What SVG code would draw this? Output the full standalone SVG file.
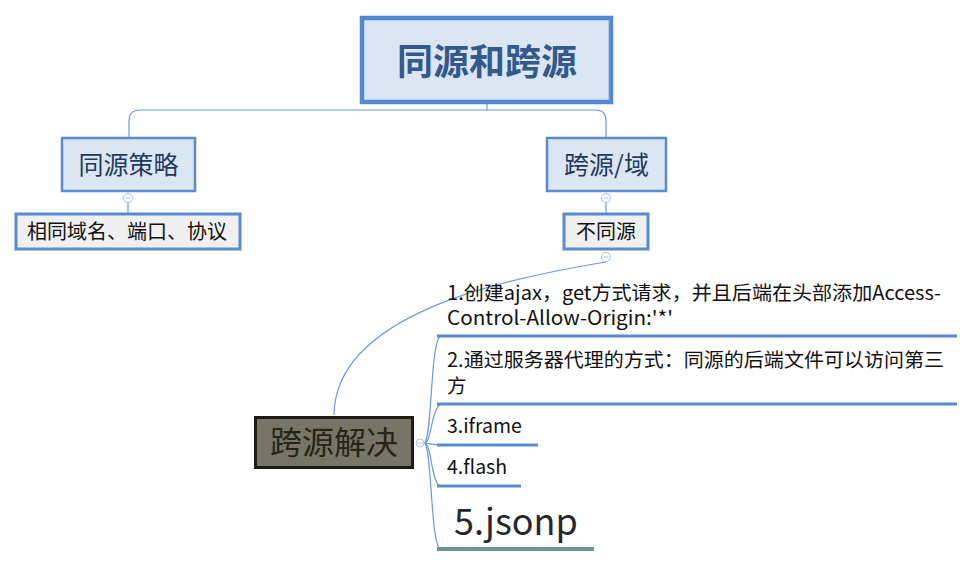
<svg xmlns="http://www.w3.org/2000/svg" width="974" height="567" viewBox="0 0 974 567">
<style>
text{font-family:"Noto Sans CJK SC","Noto Sans",sans-serif}
.line{fill:none;stroke:#6b9bd8;stroke-width:1.2}
.box{fill:#dce6f2;stroke:#5a8ad0;stroke-width:2.5}
.leaf{fill:#f0f0f0;stroke:#5a8ad0;stroke-width:3}
.t2{font-size:25px;fill:#1f3a60;text-anchor:middle}
.t3{font-size:20px;fill:#111;text-anchor:middle}
.item{font-size:19.5px;fill:#111}
.ul{stroke:#5a8ad0;stroke-width:3}
.col{fill:#fff;stroke:#a9c0e8;stroke-width:1}
.minus{stroke:#a9c0e8;stroke-width:1}
</style>
<rect width="974" height="567" fill="#fff"/>
<g id="connectors">
<path class="line" d="M487,104 V110 M140,110 H596 M140,110 Q129,110 129,121 V137 M596,110 Q606,110 606,121 V137"/>
<path class="line" d="M128,203 V213 M606,203 V213"/>
<path class="line" d="M606,262 C520,276 335,310 334,415"/>
<path class="line" d="M424,443 C432,443 430,346 440,336 M424,443 C432,443 430,413 440,404 M424,443 C430,443 432,445 440,445 M424,443 C432,443 430,478 440,487 M424,443 C432,443 430,540 440,549"/>
</g>
<g id="root">
<rect x="362" y="18" width="249" height="84" fill="#dce6f2" stroke="#558ad3" stroke-width="4.5"/>
<text x="487" y="75" font-size="36" font-weight="bold" fill="#34598c" text-anchor="middle">同源和跨源</text>
</g>
<g id="same-origin">
<rect class="box" x="62" y="138" width="133" height="53"/>
<text class="t2" x="128.5" y="174">同源策略</text>
<circle class="col" cx="128" cy="198" r="4.5"/><path class="minus" d="M125.5,198 H130.5"/>
</g>
<g id="same-origin-rule">
<rect class="leaf" x="16" y="214" width="224" height="35"/>
<text class="t3" x="127" y="239">相同域名、端口、协议</text>
</g>
<g id="cross-origin">
<rect class="box" x="547" y="138" width="119" height="53"/>
<text class="t2" x="606.5" y="174">跨源/域</text>
<circle class="col" cx="606" cy="198" r="4.5"/><path class="minus" d="M603.5,198 H608.5"/>
</g>
<g id="not-same">
<rect class="leaf" x="564" y="214" width="84" height="35"/>
<text class="t3" x="606" y="239">不同源</text>
<circle class="col" cx="606" cy="257" r="4.5"/><path class="minus" d="M603.5,257 H608.5"/>
</g>
<g id="solutions">
<rect x="255.5" y="417.5" width="157" height="50" fill="#767566" stroke="#1c1c14" stroke-width="3"/>
<text x="334" y="454" font-size="32" fill="#262418" text-anchor="middle">跨源解决</text>
<circle class="col" cx="420" cy="443" r="4"/><path class="minus" d="M417.5,443 H422.5"/>
</g>
<g id="item1">
<text class="item" x="447" y="300" textLength="494" lengthAdjust="spacingAndGlyphs">1.创建ajax，get方式请求，并且后端在头部添加Access-</text>
<text class="item" x="447" y="325" textLength="226" lengthAdjust="spacingAndGlyphs">Control-Allow-Origin:'*'</text>
<line class="ul" x1="437" y1="336" x2="957" y2="336"/>
</g>
<g id="item2">
<text class="item" x="447" y="367" textLength="497" lengthAdjust="spacingAndGlyphs">2.通过服务器代理的方式：同源的后端文件可以访问第三</text>
<text class="item" x="447" y="393">方</text>
<line class="ul" x1="437" y1="404" x2="957" y2="404"/>
</g>
<g id="item3">
<text class="item" x="447" y="433">3.iframe</text>
<line class="ul" x1="437" y1="445" x2="538" y2="445"/>
</g>
<g id="item4">
<text class="item" x="447" y="474">4.flash</text>
<line class="ul" x1="437" y1="486" x2="521" y2="486"/>
</g>
<g id="item5">
<text x="454" y="535" font-size="36" fill="#262630">5.jsonp</text>
<line x1="437" y1="549" x2="594" y2="549" stroke="#6a9a8e" stroke-width="4"/>
</g>
</svg>
